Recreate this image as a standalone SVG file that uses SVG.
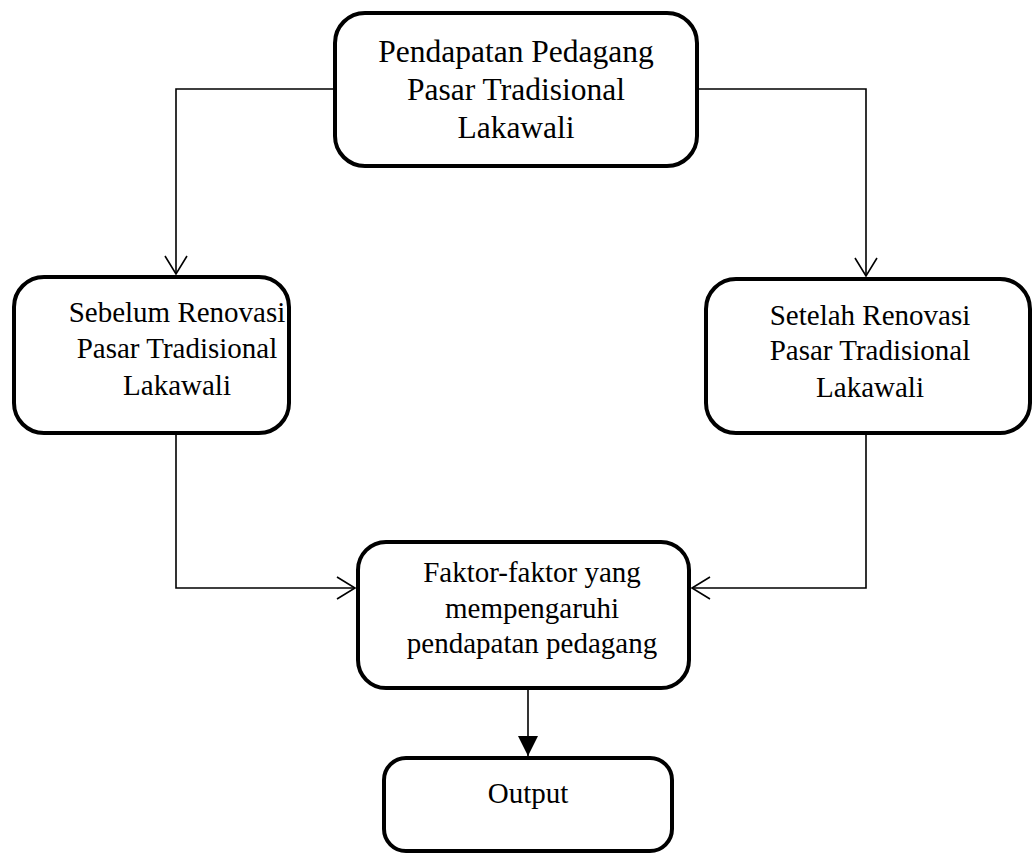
<svg xmlns="http://www.w3.org/2000/svg" width="1032" height="853" viewBox="0 0 1032 853">
<style>
.box{fill:#fff;stroke:#000;stroke-width:4}
.t{font-family:"Liberation Serif","Times New Roman",serif;font-size:29px;fill:#000;text-anchor:middle}
.tb{font-size:31.5px}
.c{fill:none;stroke:#000;stroke-width:1.6}
</style>
<defs>
<marker id="open" markerWidth="24" markerHeight="24" refX="20" refY="12" orient="auto" markerUnits="userSpaceOnUse">
<path d="M2,1 L20,12 L2,23" fill="none" stroke="#000" stroke-width="1.6"/>
</marker>
<marker id="solid" markerWidth="24" markerHeight="24" refX="20" refY="10" orient="auto" markerUnits="userSpaceOnUse">
<path d="M0,0 L20,10 L0,20 Z" fill="#000"/>
</marker>
</defs>
<g id="connectors">
<path class="c" d="M333,89 H176 V274" marker-end="url(#open)"/>
<path class="c" d="M698,89 H866 V276" marker-end="url(#open)"/>
<path class="c" d="M176,435 V588 H355" marker-end="url(#open)"/>
<path class="c" d="M866,435 V588 H692" marker-end="url(#open)"/>
<path class="c" d="M528,690 V756" stroke-width="2" marker-end="url(#solid)"/>
</g>
<g id="top">
<rect class="box" x="335" y="13" width="362" height="153" rx="30"/>
<text class="t tb" x="516" y="62">Pendapatan Pedagang</text>
<text class="t tb" x="516" y="100">Pasar Tradisional</text>
<text class="t tb" x="516" y="138">Lakawali</text>
</g>
<g id="left">
<rect class="box" x="14" y="277" width="275" height="156" rx="30"/>
<text class="t" x="177" y="322">Sebelum Renovasi</text>
<text class="t" x="177" y="358">Pasar Tradisional</text>
<text class="t" x="177" y="395">Lakawali</text>
</g>
<g id="right">
<rect class="box" x="706" y="279" width="324" height="154" rx="30"/>
<text class="t" x="870" y="325">Setelah Renovasi</text>
<text class="t" x="870" y="360">Pasar Tradisional</text>
<text class="t" x="870" y="397">Lakawali</text>
</g>
<g id="middle">
<rect class="box" x="358" y="542" width="331" height="146" rx="28"/>
<text class="t" x="532" y="582">Faktor-faktor yang</text>
<text class="t" x="532" y="618">mempengaruhi</text>
<text class="t" x="532" y="653">pendapatan pedagang</text>
</g>
<g id="output">
<rect class="box" x="384" y="758" width="288" height="93" rx="22"/>
<text class="t" x="528" y="803">Output</text>
</g>
</svg>
